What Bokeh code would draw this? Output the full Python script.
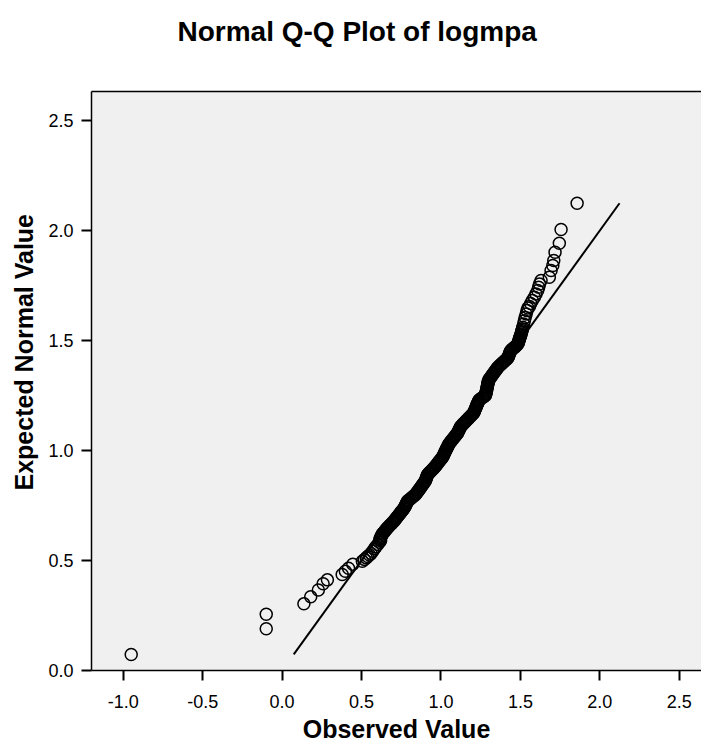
from bokeh.plotting import figure
from bokeh.models import Range1d, FixedTicker, PrintfTickFormatter, LinearAxis, Title
from bokeh.embed import file_html
from bokeh.resources import INLINE

title_text = "Normal Q-Q Plot of logmpa"
x_label = "Observed Value"
y_label = "Expected Normal Value"
x_ticks = [-1.0, -0.5, 0.0, 0.5, 1.0, 1.5, 2.0, 2.5]
y_ticks = [0.0, 0.5, 1.0, 1.5, 2.0, 2.5]

# lower tail (individually visible circles)
low_obs = [-0.95, -0.10, -0.10, 0.137, 0.180, 0.228, 0.258, 0.285, 0.378, 0.398, 0.418, 0.445,
           0.505, 0.518, 0.530, 0.539, 0.550, 0.560, 0.570, 0.581, 0.590, 0.602, 0.612, 0.620]
low_exp = [0.073, 0.190, 0.256, 0.303, 0.335, 0.366, 0.394, 0.412, 0.436, 0.451, 0.465, 0.483,
           0.497, 0.505, 0.512, 0.518, 0.525, 0.532, 0.542, 0.553, 0.562, 0.573, 0.583, 0.590]

# dense central band
mid_exp = [0.595, 0.600, 0.605, 0.610, 0.615, 0.620, 0.625, 0.630, 0.635, 0.640, 0.645, 0.650,
           0.655, 0.660, 0.665, 0.670, 0.675, 0.680, 0.685, 0.690, 0.695, 0.700, 0.705, 0.710,
           0.715, 0.720, 0.725, 0.730, 0.735, 0.740, 0.745, 0.750, 0.755, 0.760, 0.765, 0.770,
           0.775, 0.780, 0.785, 0.790, 0.795, 0.800, 0.805, 0.810, 0.815, 0.820, 0.825, 0.830,
           0.835, 0.840, 0.845, 0.850, 0.855, 0.860, 0.865, 0.870, 0.875, 0.880, 0.885, 0.890,
           0.895, 0.900, 0.905, 0.910, 0.915, 0.920, 0.925, 0.930, 0.935, 0.940, 0.945, 0.950,
           0.955, 0.960, 0.965, 0.970, 0.975, 0.980, 0.985, 0.990, 0.995, 1.000, 1.005, 1.010,
           1.015, 1.020, 1.025, 1.030, 1.035, 1.040, 1.045, 1.050, 1.055, 1.060, 1.065, 1.070,
           1.075, 1.080, 1.085, 1.090, 1.095, 1.100, 1.105, 1.110, 1.115, 1.120, 1.125, 1.130,
           1.135, 1.140, 1.145, 1.150, 1.155, 1.160, 1.165, 1.170, 1.175, 1.180, 1.185, 1.190,
           1.195, 1.200, 1.205, 1.210, 1.215, 1.220, 1.225, 1.230, 1.235, 1.240, 1.245, 1.250,
           1.255, 1.260, 1.265, 1.270, 1.275, 1.280, 1.285, 1.290, 1.295, 1.300, 1.305, 1.310,
           1.315, 1.320, 1.325, 1.330, 1.335, 1.340, 1.345, 1.350, 1.355, 1.360, 1.365, 1.370,
           1.375, 1.380, 1.385, 1.390, 1.395, 1.400, 1.405, 1.410, 1.415, 1.420, 1.425, 1.430,
           1.435, 1.440, 1.445, 1.450, 1.455, 1.460, 1.465, 1.470, 1.475, 1.480, 1.485, 1.490,
           1.495, 1.500, 1.505, 1.510, 1.515, 1.520, 1.525, 1.530, 1.535, 1.540, 1.545]
mid_obs = [0.615, 0.618, 0.621, 0.624, 0.627, 0.630, 0.636, 0.642, 0.648, 0.653, 0.659, 0.665,
           0.672, 0.678, 0.685, 0.692, 0.698, 0.705, 0.710, 0.716, 0.721, 0.727, 0.732, 0.738,
           0.743, 0.748, 0.754, 0.759, 0.765, 0.770, 0.773, 0.777, 0.780, 0.783, 0.787, 0.790,
           0.798, 0.807, 0.815, 0.823, 0.832, 0.840, 0.845, 0.850, 0.855, 0.860, 0.865, 0.870,
           0.875, 0.880, 0.885, 0.890, 0.895, 0.900, 0.903, 0.905, 0.908, 0.910, 0.913, 0.915,
           0.922, 0.928, 0.935, 0.942, 0.948, 0.955, 0.961, 0.967, 0.972, 0.978, 0.983, 0.988,
           0.994, 0.999, 1.005, 1.010, 1.013, 1.017, 1.020, 1.023, 1.027, 1.030, 1.033, 1.037,
           1.040, 1.043, 1.047, 1.050, 1.056, 1.061, 1.067, 1.072, 1.078, 1.083, 1.089, 1.094,
           1.100, 1.105, 1.108, 1.112, 1.115, 1.118, 1.122, 1.125, 1.132, 1.138, 1.145, 1.152,
           1.158, 1.165, 1.172, 1.178, 1.185, 1.192, 1.198, 1.205, 1.208, 1.211, 1.214, 1.217,
           1.220, 1.223, 1.225, 1.228, 1.231, 1.234, 1.237, 1.240, 1.250, 1.260, 1.270, 1.280,
           1.281, 1.283, 1.284, 1.286, 1.287, 1.289, 1.290, 1.291, 1.293, 1.294, 1.296, 1.297,
           1.299, 1.300, 1.305, 1.310, 1.315, 1.320, 1.325, 1.330, 1.335, 1.340, 1.345, 1.350,
           1.355, 1.360, 1.368, 1.375, 1.383, 1.390, 1.398, 1.405, 1.413, 1.420, 1.423, 1.426,
           1.429, 1.431, 1.434, 1.437, 1.440, 1.448, 1.455, 1.465, 1.472, 1.478, 1.485, 1.487,
           1.489, 1.491, 1.493, 1.495, 1.497, 1.500, 1.502, 1.504, 1.506, 1.508, 1.510]

# upper tail
high_obs = [1.512, 1.515, 1.520, 1.525, 1.530, 1.536, 1.542, 1.547, 1.557, 1.565, 1.575, 1.588,
            1.598, 1.609, 1.615, 1.620, 1.630, 1.682, 1.693, 1.704, 1.710, 1.718, 1.745, 1.756, 1.857]
high_exp = [1.552, 1.560, 1.575, 1.590, 1.605, 1.621, 1.636, 1.648, 1.655, 1.668, 1.682, 1.697,
            1.712, 1.727, 1.742, 1.757, 1.773, 1.788, 1.818, 1.841, 1.864, 1.901, 1.942, 2.005, 2.124]

observed = low_obs + mid_obs + high_obs
expected = low_exp + mid_exp + high_exp

W, H = 701, 745
p = figure(width=W, height=H, output_backend="svg", toolbar_location=None,
           x_range=Range1d(-1.2, 2.64), y_range=Range1d(0, 2.632),
           min_border_left=91, min_border_right=0, min_border_top=91, min_border_bottom=75)
p.background_fill_color = "#f0f0f0"
p.border_fill_color = "white"
p.outline_line_color = None
p.xgrid.visible = False
p.ygrid.visible = False

for ax, ticks in ((p.xaxis[0], x_ticks), (p.yaxis[0], y_ticks)):
    ax.ticker = FixedTicker(ticks=ticks)
    ax.formatter = PrintfTickFormatter(format="%.1f")
    ax.major_tick_out = 10
    ax.major_tick_in = 0
    ax.minor_tick_line_color = None
    ax.major_tick_line_width = 2
    ax.major_tick_line_color = "black"
    ax.axis_line_width = 1.5
    ax.axis_line_color = "black"
    ax.major_label_text_font = "Liberation Sans"
    ax.major_label_text_font_size = "18px"
    ax.major_label_text_color = "black"
    ax.major_label_standoff = 8
p.xaxis.major_label_standoff = 14

top = LinearAxis(ticker=FixedTicker(ticks=[]), axis_line_width=1.5, axis_line_color="black",
                 major_tick_line_color=None, minor_tick_line_color=None,
                 major_label_text_color=None)
p.add_layout(top, "above")
spacer = Title(text=" ", text_font_size="1px", standoff=37)
p.add_layout(spacer, "above")

p.title.text = title_text
p.title.align = "left"
p.title.offset = 86
p.title.text_font = "Liberation Sans"
p.title.text_font_style = "bold"
p.title.text_font_size = "28px"
p.title.text_color = "black"
p.title.vertical_align = "bottom"
p.title.standoff = 10

xlab = Title(text=x_label, align="center", vertical_align="bottom", standoff=4,
             text_font="Liberation Sans", text_font_style="bold", text_font_size="25px",
             text_color="black")
p.add_layout(xlab, "below")

ylab = Title(text=y_label, align="left", offset=180, standoff=15, text_font="Liberation Sans",
             text_font_style="bold", text_font_size="25px", text_color="black")
p.add_layout(ylab, "left")

p.line([min(expected), max(expected)], [min(expected), max(expected)], line_color="black", line_width=2)
p.scatter(observed, expected, size=12, fill_color=None, line_color="black", line_width=1.5)

open("out.html", "w").write(file_html(p, INLINE))
